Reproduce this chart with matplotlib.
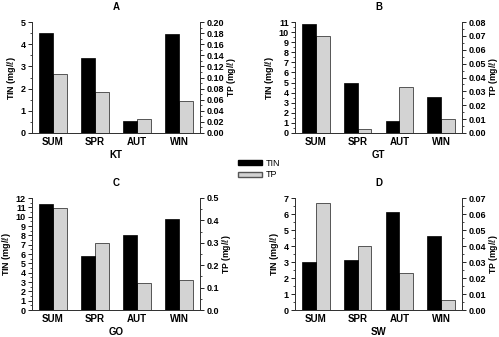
import numpy as np
import matplotlib.pyplot as plt
from matplotlib.ticker import MultipleLocator, FormatStrFormatter
from matplotlib.patches import Rectangle

plt.rcParams['font.family'] = ['Liberation Sans', 'DejaVu Sans']
plt.rcParams['font.size'] = 6.5

seasons = ['SUM', 'SPR', 'AUT', 'WIN']
sites = ['KT', 'GT', 'GO', 'SW']
titles = ['A', 'B', 'C', 'D']

tin_kt = [4.5, 3.4, 0.55, 4.45]
tp_kt = [0.106, 0.073, 0.026, 0.057]
tin_gt = [10.8, 5.0, 1.2, 3.55]
tp_gt = [0.070, 0.003, 0.033, 0.010]
tin_go = [11.4, 5.8, 8.0, 9.8]
tp_go = [0.455, 0.30, 0.12, 0.133]
tin_sw = [3.0, 3.15, 6.1, 4.6]
tp_sw = [0.067, 0.040, 0.023, 0.0065]

tin_all = [tin_kt, tin_gt, tin_go, tin_sw]
tp_all = [tp_kt, tp_gt, tp_go, tp_sw]
tin_lim = [(5, 1), (11, 1), (12, 1), (7, 1)]
tp_lim = [(0.20, 0.02, '%.2f'), (0.08, 0.01, '%.2f'), (0.5, 0.1, '%.1f'), (0.07, 0.01, '%.2f')]

W, H = 499, 337
fig = plt.figure(figsize=(W / 100, H / 100), dpi=100)

# axes boxes in pixels: left, top, right, bottom
boxes = [(32, 22, 200, 133), (295, 22, 462, 133),
         (32, 198, 200, 310), (295, 198, 462, 310)]

x = np.arange(len(seasons))
bw = 0.33
for i in range(4):
    l, t, r, b = boxes[i]
    ax = fig.add_axes([l / W, 1 - b / H, (r - l) / W, (b - t) / H])
    ax2 = ax.twinx()
    ax.bar(x - bw / 2, tin_all[i], bw, color='black', edgecolor='black', linewidth=0.5, zorder=3)
    ax2.bar(x + bw / 2, tp_all[i], bw, color='#d3d3d3', edgecolor='#555555', linewidth=0.7)
    ax.set_zorder(ax2.get_zorder() + 1)
    ax.patch.set_visible(False)

    ax.set_xlim(-0.5, 3.5)
    ax.set_ylim(0, tin_lim[i][0])
    ax.yaxis.set_major_locator(MultipleLocator(tin_lim[i][1]))
    ax.yaxis.set_minor_locator(MultipleLocator(tin_lim[i][1] / 2))
    top, step, fmt = tp_lim[i]
    ax2.set_ylim(0, top)
    ax2.yaxis.set_major_locator(MultipleLocator(step))
    ax2.yaxis.set_minor_locator(MultipleLocator(step / 2))
    ax2.yaxis.set_major_formatter(FormatStrFormatter(fmt))

    ax.set_xticks(x)
    ax.set_xticklabels(seasons, fontweight='bold', fontsize=7)
    ax.tick_params(axis='x', length=0, pad=3)
    for a in (ax, ax2):
        a.tick_params(axis='y', which='major', length=3, width=0.6, pad=1.5, labelsize=6.5)
        a.tick_params(axis='y', which='minor', length=1.5, width=0.5)
        for lab in a.get_yticklabels():
            lab.set_fontweight('bold')
        a.spines['top'].set_visible(False)
        for s in ('left', 'right', 'bottom'):
            a.spines[s].set_linewidth(0.7)
            a.spines[s].set_color('#333333')

    ax.set_ylabel('TIN (mg/$\\ell$)', fontweight='bold', fontsize=6.5, labelpad=2)
    ax2.set_ylabel('TP (mg/$\\ell$)', fontweight='bold', fontsize=6.2, labelpad=1)
    ax.set_xlabel(sites[i], fontweight='bold', fontsize=7, labelpad=2)
    ax.set_title(titles[i], fontweight='bold', fontsize=7, pad=9)

# legend
fig.legend(handles=[Rectangle((0, 0), 1, 1, facecolor='black', edgecolor='black'),
                    Rectangle((0, 0), 1, 1, facecolor='#d3d3d3', edgecolor='#555555')],
           labels=['TIN', 'TP'], loc='upper left', bbox_to_anchor=(230 / W, 1 - 151 / H),
           frameon=False, fontsize=6.5, handlelength=2.6, handleheight=0.5,
           labelspacing=0.25, handletextpad=0.5)

fig.savefig('out.png', dpi=100)
